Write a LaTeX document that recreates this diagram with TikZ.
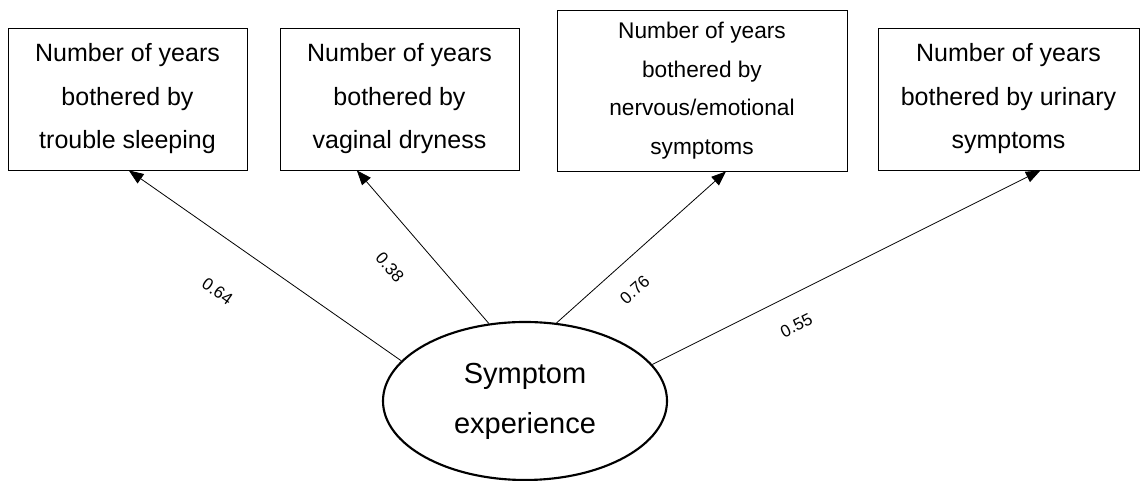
\documentclass[tikz,border=0pt]{standalone}
\usepackage{fontspec}
\setmainfont{Liberation Sans}
\usetikzlibrary{arrows.meta,shapes.geometric}
\begin{document}
\begin{tikzpicture}[x=0.75pt,y=0.75pt,
  item/.style={draw=black,line width=0.6pt,fill=white,align=center,inner sep=0pt,
    minimum width=179.25pt,minimum height=106.5pt,font=\fontsize{18.75}{32.6}\selectfont},
  latent/.style={ellipse,draw=black,line width=1.6pt,align=center,inner sep=0pt,
    minimum width=213pt,minimum height=118.5pt,font=\fontsize{21.75}{37.5}\selectfont},
  load/.style={-{Triangle[length=11pt,width=8.5pt]},line width=0.6pt},
  coef/.style={sloped,inner sep=0pt,font=\fontsize{12.75}{15}\selectfont}]
\useasboundingbox (0,0) rectangle (1147,481);
\node[item] (sleep) at (127.5,382) {Number of years\\bothered by\\trouble sleeping};
\node[item] (dry) at (399.5,382) {Number of years\\bothered by\\vaginal dryness};
\node[item,minimum width=217.5pt,minimum height=120.75pt,font=\fontsize{17}{29}\selectfont]
  (nerv) at (702,390.5) {Number of years\\bothered by\\nervous/emotional\\symptoms};
\node[item,minimum width=195.75pt] (urin) at (1008.5,382) {Number of years\\bothered by urinary\\symptoms};
\node[latent] (symp) at (525,80) {Symptom\\experience};
\draw[load] (symp.162.9) -- ([xshift=1pt]sleep.south) node[coef,pos=0.573,below=31.5pt] {0.64};
\draw[load] (symp.115.1) -- ([xshift=-32pt]dry.south) node[coef,pos=0.53,below=24pt] {0.38};
\draw[load] (symp.68.3) -- ([xshift=18pt]nerv.south) node[coef,pos=0.354,below=15.75pt] {0.76};
\draw[load] (symp.16.2) -- ([xshift=24pt]urin.south) node[coef,pos=0.337,below=17.25pt] {0.55};
\end{tikzpicture}
\end{document}
